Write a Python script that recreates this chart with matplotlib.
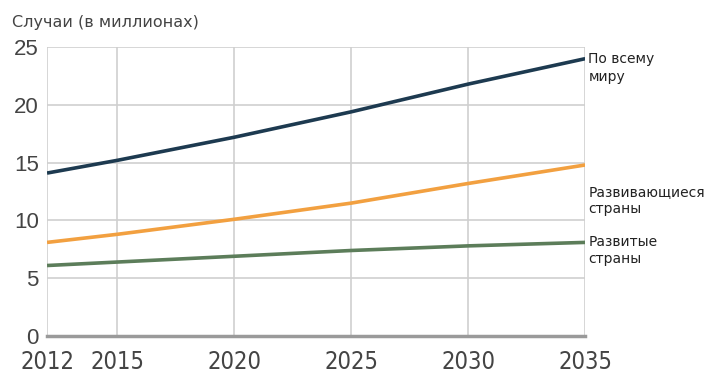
import matplotlib.pyplot as plt

# Data (cases, millions)
years = [2012, 2015, 2020, 2025, 2030, 2035]
world = [14.1, 15.2, 17.2, 19.4, 21.8, 24.0]
developing = [8.1, 8.8, 10.1, 11.5, 13.2, 14.8]
developed = [6.1, 6.4, 6.9, 7.4, 7.8, 8.1]

series_labels = ["По всему\nмиру", "Развивающиеся\nстраны", "Развитые\nстраны"]
y_ticks = [0, 5, 10, 15, 20, 25]
x_ticks = [2012, 2015, 2020, 2025, 2030, 2035]

COLORS = ["#1d3a50", "#f2a040", "#5c7d5a"]
GRID = "#cfcfcf"
TEXT = "#444444"

fig = plt.figure(figsize=(7.05, 3.74), dpi=100)
ax = fig.add_axes([0.0667, 0.1016, 0.7633, 0.7724])

for ys, c in zip([world, developing, developed], COLORS):
    ax.plot(years, ys, color=c, linewidth=2.6, solid_capstyle="butt", zorder=3)

ax.set_xlim(2012, 2035)
ax.set_ylim(0, 25)
ax.set_xticks(x_ticks)
ax.set_yticks(y_ticks)
ax.grid(color=GRID, linewidth=1.2)
for spine in ax.spines.values():
    spine.set_visible(False)
ax.axhline(0, color="#9a9a9a", linewidth=2.5, zorder=2, clip_on=False)
ax.tick_params(length=0)
ax.tick_params(axis="y", pad=6)
ax.tick_params(axis="x", pad=10)
for lab in ax.get_yticklabels():
    lab.set_fontfamily(["Liberation Sans", "DejaVu Sans"])
    lab.set_fontsize(16)
    lab.set_color(TEXT)
for lab in ax.get_xticklabels():
    lab.set_fontfamily(["DejaVu Sans"])
    lab.set_fontstretch("condensed")
    lab.set_fontsize(17)
    lab.set_color(TEXT)

fig.text(0.017, 0.94, "Случаи (в миллионах)", fontsize=11.5, color=TEXT,
         family="DejaVu Sans", va="center", ha="left")

# Right-hand labels
label_y = [world[-1] - 0.8, developing[-1] - 3.05, developed[-1] - 0.7]
for text, yv in zip(series_labels, label_y):
    ax.text(1.006, yv, text, transform=ax.get_yaxis_transform(), fontsize=10,
            color="#222222", family="DejaVu Sans", va="center", ha="left",
            linespacing=1.3, clip_on=False)

fig.savefig("out.png", dpi=100)
